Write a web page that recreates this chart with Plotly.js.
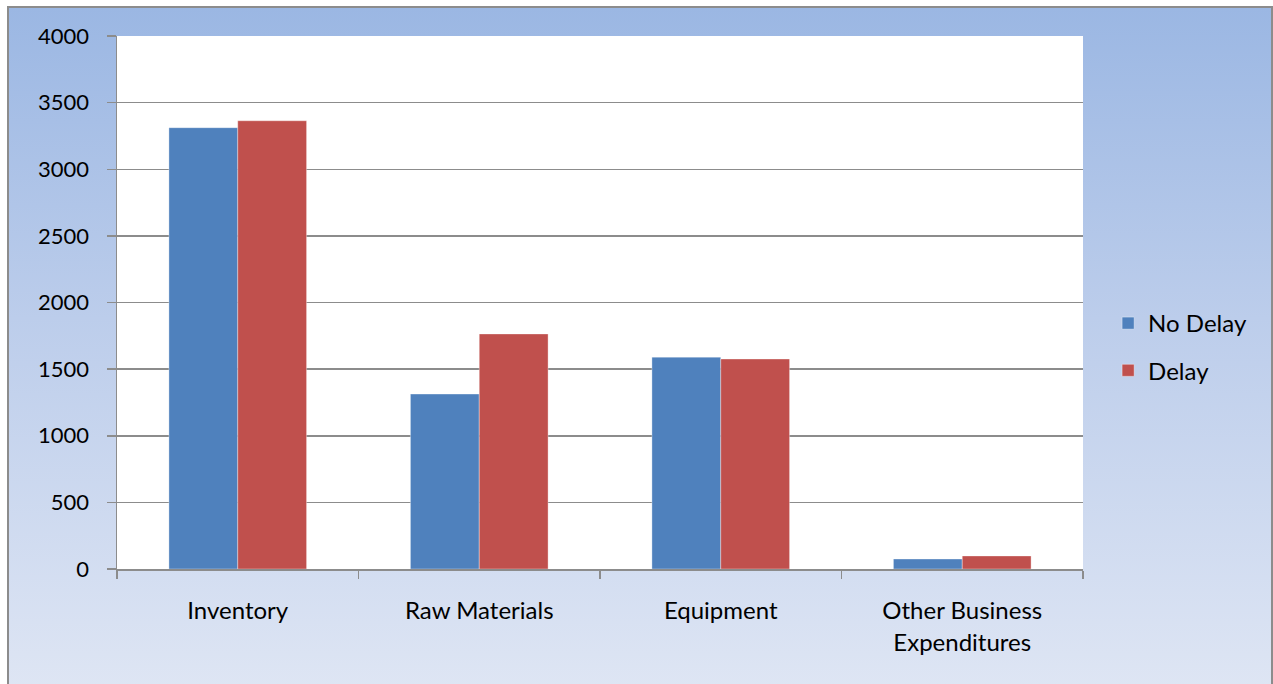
<!DOCTYPE html>
<html>
<head>
<meta charset="utf-8">
<script src="https://cdn.plot.ly/plotly-3.0.1.min.js"></script>
<style>
  html, body { margin: 0; padding: 0; width: 1273px; height: 684px; overflow: hidden; background: #ffffff; }
  #frame {
    position: absolute; left: 7px; top: 6px; width: 1262px; height: 690px;
    border: 2px solid #8c8c8c;
    background: linear-gradient(to bottom, #9bb7e3 0%, #bccdeb 45%, #dfe6f4 100%);
  }
  #chart { position: absolute; left: 0; top: 0; width: 1273px; height: 684px; }
</style>
</head>
<body>
<div id="frame"></div>
<div id="chart"></div>
<script>
// Spending by category, with and without delay
const categories = ["Inventory", "Raw Materials", "Equipment", "Other Business<br>Expenditures"];
const noDelay = [3312, 1313, 1590, 75];
const delay = [3364, 1764, 1576, 98];
const yTicks = [0, 500, 1000, 1500, 2000, 2500, 3000, 3500, 4000];

const family = "Lato, 'Open Sans', sans-serif";
const textFont = { family: family, size: 24, color: "#000000" };
const numFont = { family: family, size: 22, color: "#000000" };

const traces = [
  {
    type: "bar", name: "No Delay", x: categories, y: noDelay,
    marker: { color: "#4f81bd", line: { color: "rgba(255,255,255,0.35)", width: 1 } },
    legendgroup: "a"
  },
  {
    type: "bar", name: "Delay", x: categories, y: delay,
    marker: { color: "#c0504d", line: { color: "rgba(255,255,255,0.35)", width: 1 } },
    legendgroup: "b"
  }
];

const layout = {
  width: 1273, height: 684,
  margin: { l: 117, r: 190, t: 36, b: 115 },
  paper_bgcolor: "rgba(0,0,0,0)",
  plot_bgcolor: "#ffffff",
  font: textFont,
  barmode: "group",
  bargap: 0.43,
  bargroupgap: 0,
  showlegend: true,
  legend: {
    x: 1.026, xanchor: "left", y: 0.4165, yanchor: "middle",
    traceorder: "grouped", tracegroupgap: 13,
    bgcolor: "rgba(0,0,0,0)", font: textFont
  },
  xaxis: {
    type: "category",
    showgrid: false,
    showline: true, linecolor: "#8c8c8c", linewidth: 1.5,
    ticks: "outside", tickson: "boundaries", ticklen: 8, tickcolor: "#8c8c8c", tickwidth: 1.5,
    ticklabelstandoff: 20,
    tickfont: textFont,
    zeroline: false
  },
  yaxis: {
    range: [0, 4000],
    tickvals: yTicks,
    ticktext: yTicks.map(String),
    showgrid: true, gridcolor: "#8c8c8c", gridwidth: 1.5,
    showline: true, linecolor: "#8c8c8c", linewidth: 1.5,
    ticks: "outside", ticklen: 9, tickcolor: "#8c8c8c", tickwidth: 1.5,
    ticklabelstandoff: 13,
    tickfont: numFont,
    zeroline: false
  }
};

Plotly.newPlot("chart", traces, layout, { displayModeBar: false, staticPlot: true });
</script>
</body>
</html>
